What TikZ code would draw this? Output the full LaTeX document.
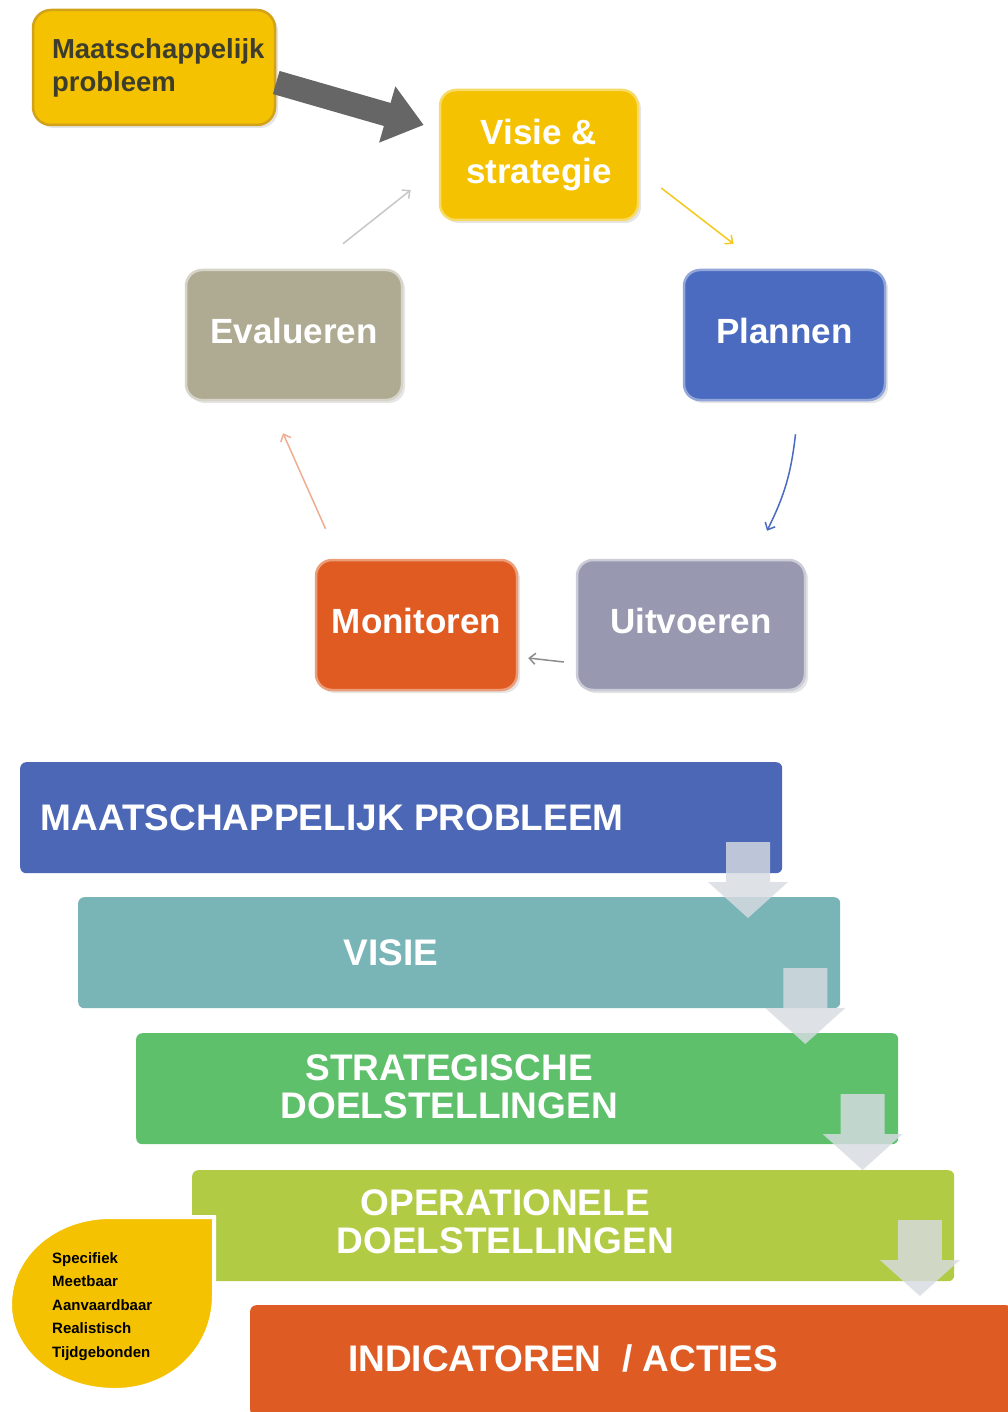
\documentclass[tikz,border=0pt]{standalone}
\usepackage{fontspec}
\setmainfont{Liberation Sans}
\usetikzlibrary{arrows.meta}
\usetikzlibrary{shadows}

\definecolor{goldfill}{HTML}{F4C200}
\definecolor{goldrim}{HTML}{D2A21A}
\definecolor{planblue}{HTML}{4A6BC0}
\definecolor{doegray}{HTML}{9899B0}
\definecolor{monorange}{HTML}{E05B22}
\definecolor{evalkhaki}{HTML}{AFAB93}
\definecolor{barblue}{HTML}{4C67B5}
\definecolor{barteal}{HTML}{79B4B6}
\definecolor{bargreen}{HTML}{5EC06B}
\definecolor{barlime}{HTML}{B1CB45}
\definecolor{barorange}{HTML}{DF5B24}
\definecolor{darktext}{HTML}{3D3D2D}
\definecolor{downfill}{RGB}{215,220,226}

\begin{document}
\begin{tikzpicture}[x=1pt,y=-1pt]
	\tikzstyle{stage}=[rounded corners=16pt, line width=2.5pt, text=white, align=center,
		font=\fontsize{35}{39}\selectfont\bfseries, minimum height=130pt,
		drop shadow={opacity=0.2, shadow xshift=3pt, shadow yshift=-3pt}]
	\tikzstyle{flow edge}=[line width=1.5pt, -{Straight Barb[length=6pt,width=11pt]}]
	\tikzstyle{bar}=[anchor=north west, rounded corners=6pt, minimum width=762pt, minimum height=111pt, inner sep=0pt]
	\tikzstyle{bar text}=[text=white, align=center, font=\fontsize{37}{38}\selectfont\bfseries]

	\useasboundingbox (0,0) rectangle (1008,1412);
	\fill[white] (0,0) rectangle (1008,1412);

	% cycle
	\node[stage, fill=goldfill, draw=goldrim, text=darktext, rounded corners=18pt,
		minimum width=242pt, minimum height=115pt, text width=204pt, align=left,
		font=\fontsize{27.5}{33}\selectfont\bfseries] (mp) at (154,67.5) {Maatschappelijk\\probleem};
	\node[stage, fill=goldfill, draw=goldfill!60!white, minimum width=198pt] (vs) at (539,155) {Visie \&\\strategie};
	\node[stage, fill=planblue, draw=planblue!60!white, minimum width=201pt] (pl) at (784.5,335) {Plannen\vphantom{g}};
	\node[stage, fill=doegray, draw=doegray!50!white, minimum width=228pt] (ut) at (691,625) {Uitvoeren\vphantom{g}};
	\node[stage, fill=monorange, draw=monorange!60!white, minimum width=201pt] (mo) at (416.5,625) {Monitoren\vphantom{g}};
	\node[stage, fill=evalkhaki, draw=evalkhaki!50!white, minimum width=216pt] (ev) at (294,335) {Evalueren\vphantom{g}};

	\draw[line width=24pt, black!60, -{Triangle[length=38pt,width=56pt]}]
		([yshift=-15pt]mp.east) -- ([xshift=-15pt,yshift=30pt]vs.west);

	\draw[flow edge, goldfill!90!white] ([xshift=22pt,yshift=-33pt]vs.east) -- ([xshift=-51pt,yshift=25pt]pl.north);
	\draw[flow edge, planblue] ([xshift=11pt,yshift=-33pt]pl.south) to[bend left=10] ([xshift=76pt,yshift=28pt]ut.north);
	\draw[flow edge, black!45] ([xshift=-12pt,yshift=-37pt]ut.west) -- ([xshift=10pt,yshift=-33pt]mo.east);
	\draw[flow edge, monorange!50!white] ([xshift=-91pt,yshift=30pt]mo.north) -- ([xshift=-11pt,yshift=-32pt]ev.south);
	\draw[flow edge, black!22] ([xshift=49pt,yshift=25pt]ev.north) -- ([xshift=-28pt,yshift=-35pt]vs.west);

	% staircase
	\node[bar, fill=barblue] (b1) at (20,762) {};
	\node[bar, fill=barteal] (b2) at (78,897) {};
	\node[bar, fill=bargreen] (b3) at (136,1033) {};
	\node[bar, fill=barlime] (b4) at (192,1170) {};
	\node[bar, fill=barorange] (b5) at (250,1305) {};

	\node[bar text] (t1) at ([xshift=-69pt]b1.center) {MAATSCHAPPELIJK PROBLEEM};
	\node[bar text] (t2) at ([xshift=-68pt]b2.center) {VISIE};
	\node[bar text] (t3) at ([xshift=-68pt,yshift=2pt]b3.center) {STRATEGISCHE\\DOELSTELLINGEN};
	\node[bar text] (t4) at ([xshift=-68pt,yshift=4pt]b4.center) {OPERATIONELE\\DOELSTELLINGEN};
	\node[bar text] (t5) at ([xshift=-68pt,yshift=2pt]b5.center) {INDICATOREN \ / ACTIES};

	\foreach \i in {0,...,3} {
		\pgfmathsetmacro\cx{748+57.3*\i}
		\pgfmathsetmacro\cy{842+126*\i}
		\fill[downfill, opacity=0.82] ({\cx-22},\cy) -- ({\cx+22},\cy) -- ({\cx+22},{\cy+40})
			-- ({\cx+40},{\cy+40}) -- (\cx,{\cy+76}) -- ({\cx-40},{\cy+40}) -- ({\cx-22},{\cy+40}) -- cycle;
	}

	% SMART leaf
	\draw[fill=goldfill, draw=white, line width=4pt] (214,1217) -- (214,1295)
		.. controls (214,1350) and (170,1390) .. (115,1390)
		.. controls (55,1390) and (10,1350) .. (10,1305)
		.. controls (10,1255) and (55,1217) .. (110,1217) -- cycle;
	\node[anchor=north west, align=left, inner sep=0pt, font=\fontsize{15}{23.5}\selectfont\bfseries] (smart) at (52,1252)
		{Specifiek\\Meetbaar\\Aanvaardbaar\\Realistisch\\Tijdgebonden};
\end{tikzpicture}
\end{document}
